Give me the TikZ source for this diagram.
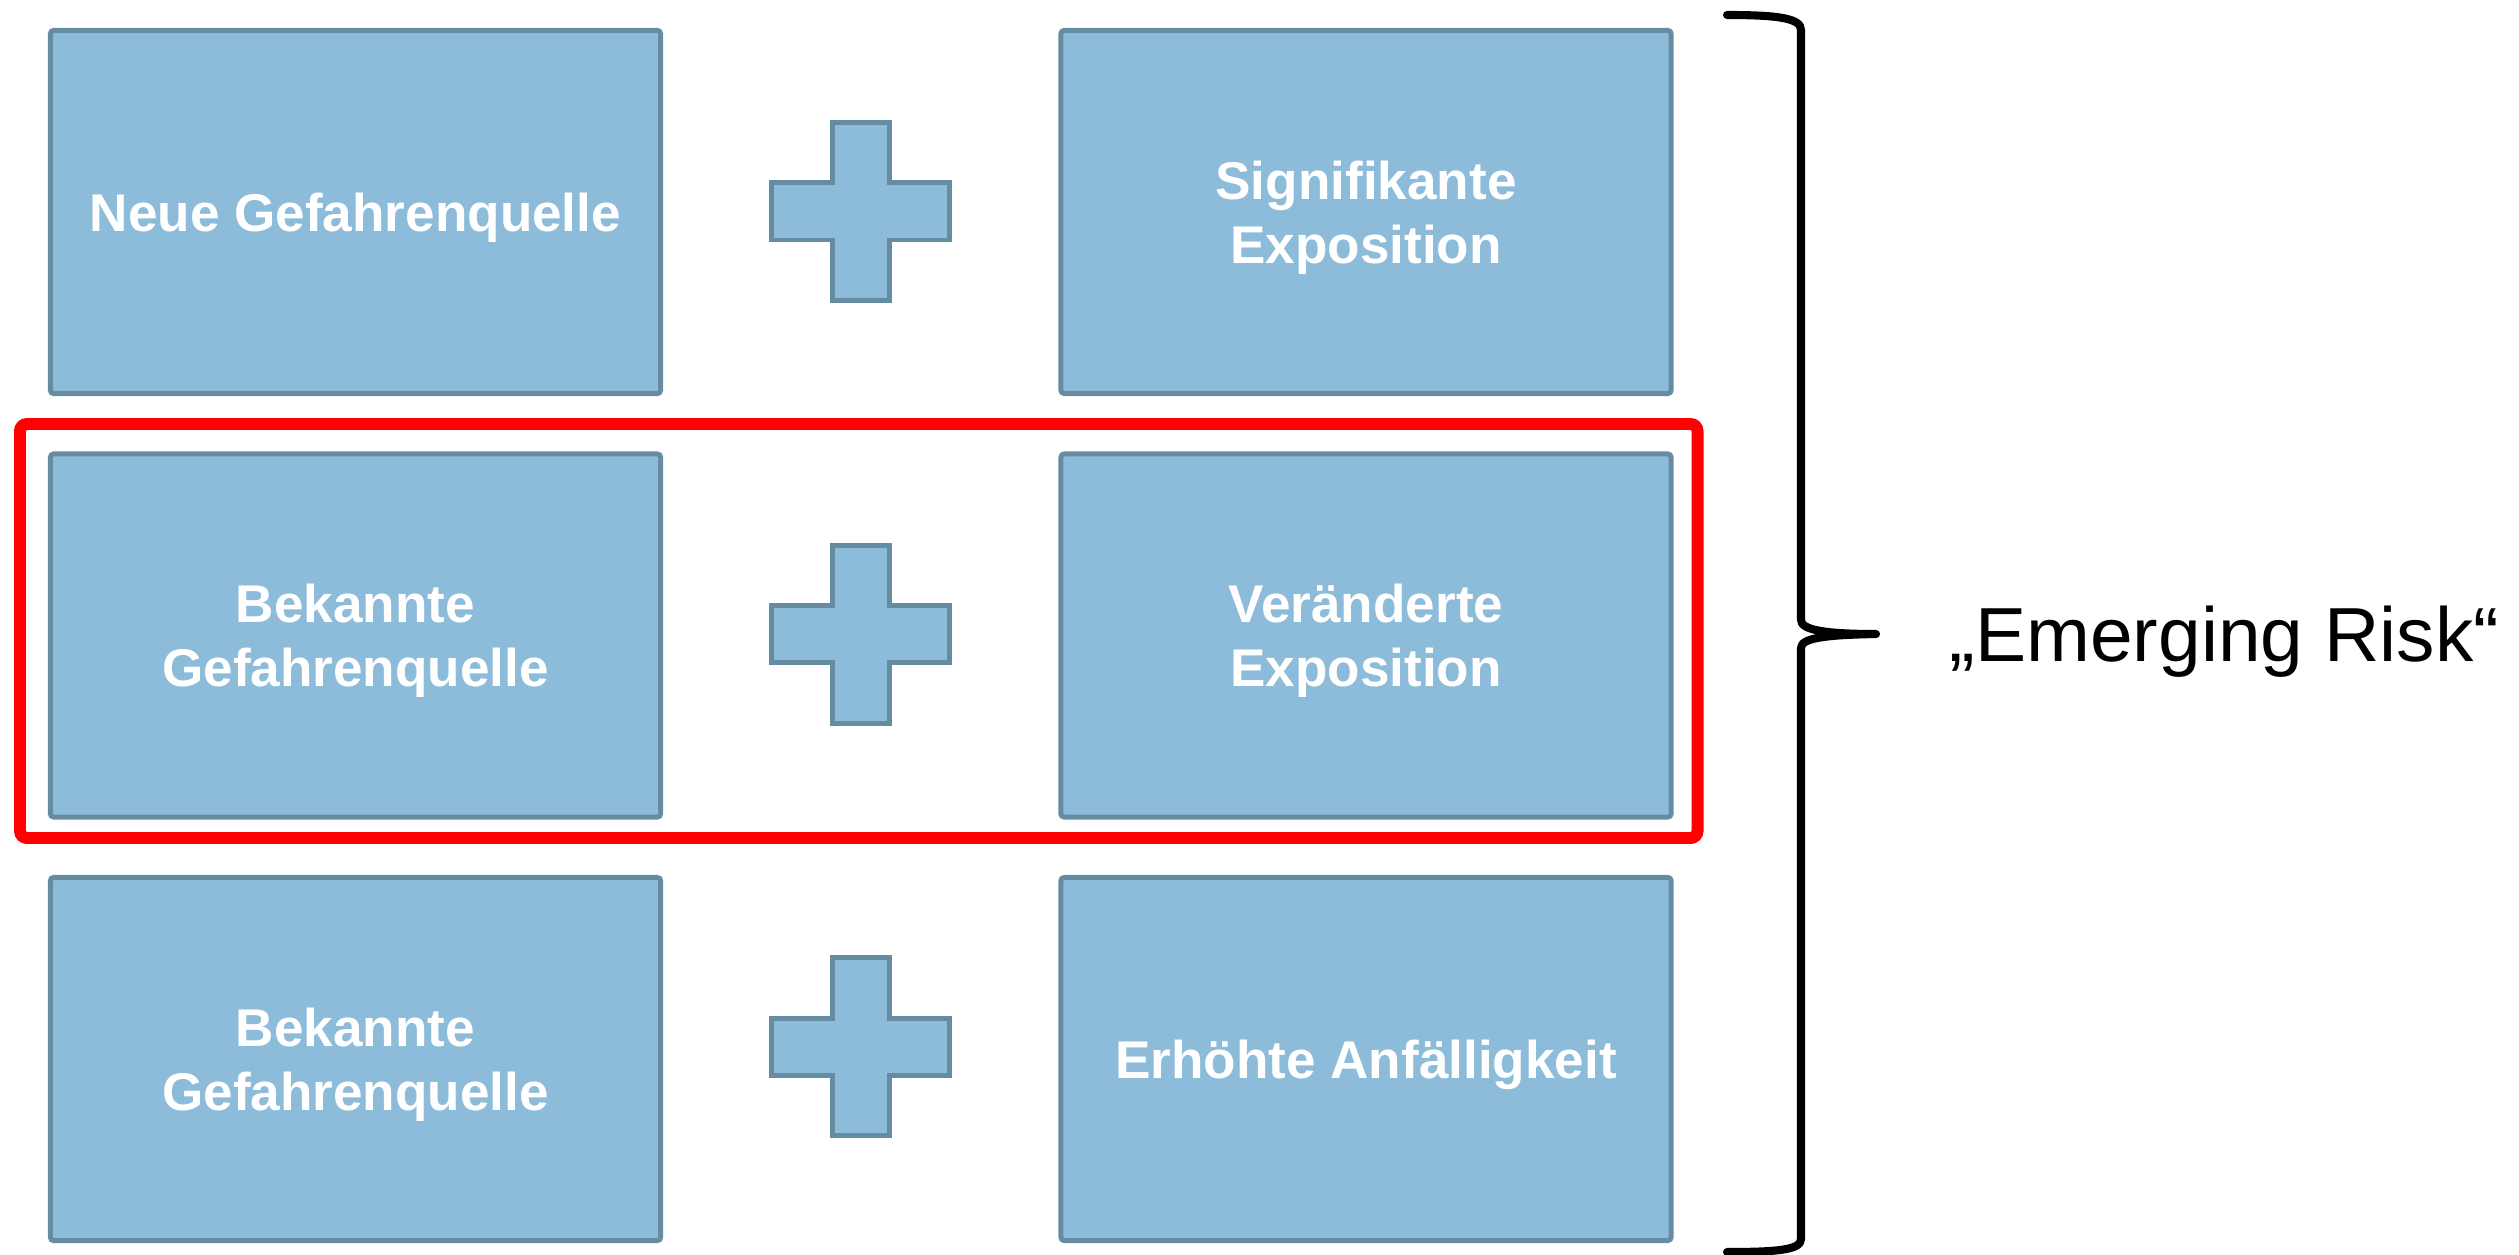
\documentclass[tikz,border=0pt]{standalone}
\usepackage{fontspec}
\setmainfont{Liberation Sans}
\definecolor{boxfill}{HTML}{8DBCDA}
\definecolor{boxline}{HTML}{668CA1}
\tikzset{
  riskbox/.style={draw=boxline, fill=boxfill, line width=1.42pt, rounded corners=1pt,
    minimum width=6.1cm, minimum height=3.63cm, inner sep=0pt, align=center,
    text=white, font=\fontsize{15.1pt}{18.2pt}\selectfont\bfseries, text depth=0pt},
  plussign/.style={draw=boxline, fill=boxfill, line width=1.42pt},
  highlight/.style={draw=red, line width=3.4pt, rounded corners=2pt},
  curly/.style={draw=black, line width=2.3pt, line cap=round, line join=round},
  pics/plussym/.style={code={
    \draw[plussign] (-28.5,-89) -- (28.5,-89) -- (28.5,-28.5) -- (89,-28.5)
      -- (89,28.5) -- (28.5,28.5) -- (28.5,89) -- (-28.5,89) -- (-28.5,28.5)
      -- (-89,28.5) -- (-89,-28.5) -- (-28.5,-28.5) -- cycle;}},
}
\begin{document}
\begin{tikzpicture}[x=0.01cm, y=-0.01cm]
\useasboundingbox (0,0) rectangle (2519,1255);

% hazard / exposure pairs
\node[riskbox] (src1) at (355.5,212)   {Neue Gefahrenquelle};
\node[riskbox] (exp1) at (1366,212)    {Signifikante\\Exposition};
\node[riskbox] (src2) at (355.5,635.5) {Bekannte\\Gefahrenquelle};
\node[riskbox] (exp2) at (1366,635.5)  {Veränderte\\Exposition};
\node[riskbox] (src3) at (355.5,1059)  {Bekannte\\Gefahrenquelle};
\node[riskbox] (exp3) at (1366,1059)   {Erhöhte Anfälligkeit};

% plus signs between the pairs
\pic at (860.5,211.5) {plussym};
\pic at (860.5,634.2) {plussym};
\pic at (860.5,1046.8) {plussym};

% highlighted middle row
\draw[highlight] (20,424) rectangle (1697.5,838);

% right curly brace
\coordinate (tip) at (1876,634);
\draw[curly] (1727,15) .. controls (1777,15) and (1801,18) .. (1801,30)
  -- (1801,620) .. controls (1801,630) and (1825,634) .. (tip)
  .. controls (1825,635) and (1801,638) .. (1801,648)
  -- (1801,1239) .. controls (1801,1250) and (1777,1252) .. (1727,1252);

\node[anchor=base west, inner sep=0pt, font=\fontsize{21.8pt}{26pt}\selectfont]
  (label) at (1949,661) {„Emerging Risk“};
\end{tikzpicture}
\end{document}
